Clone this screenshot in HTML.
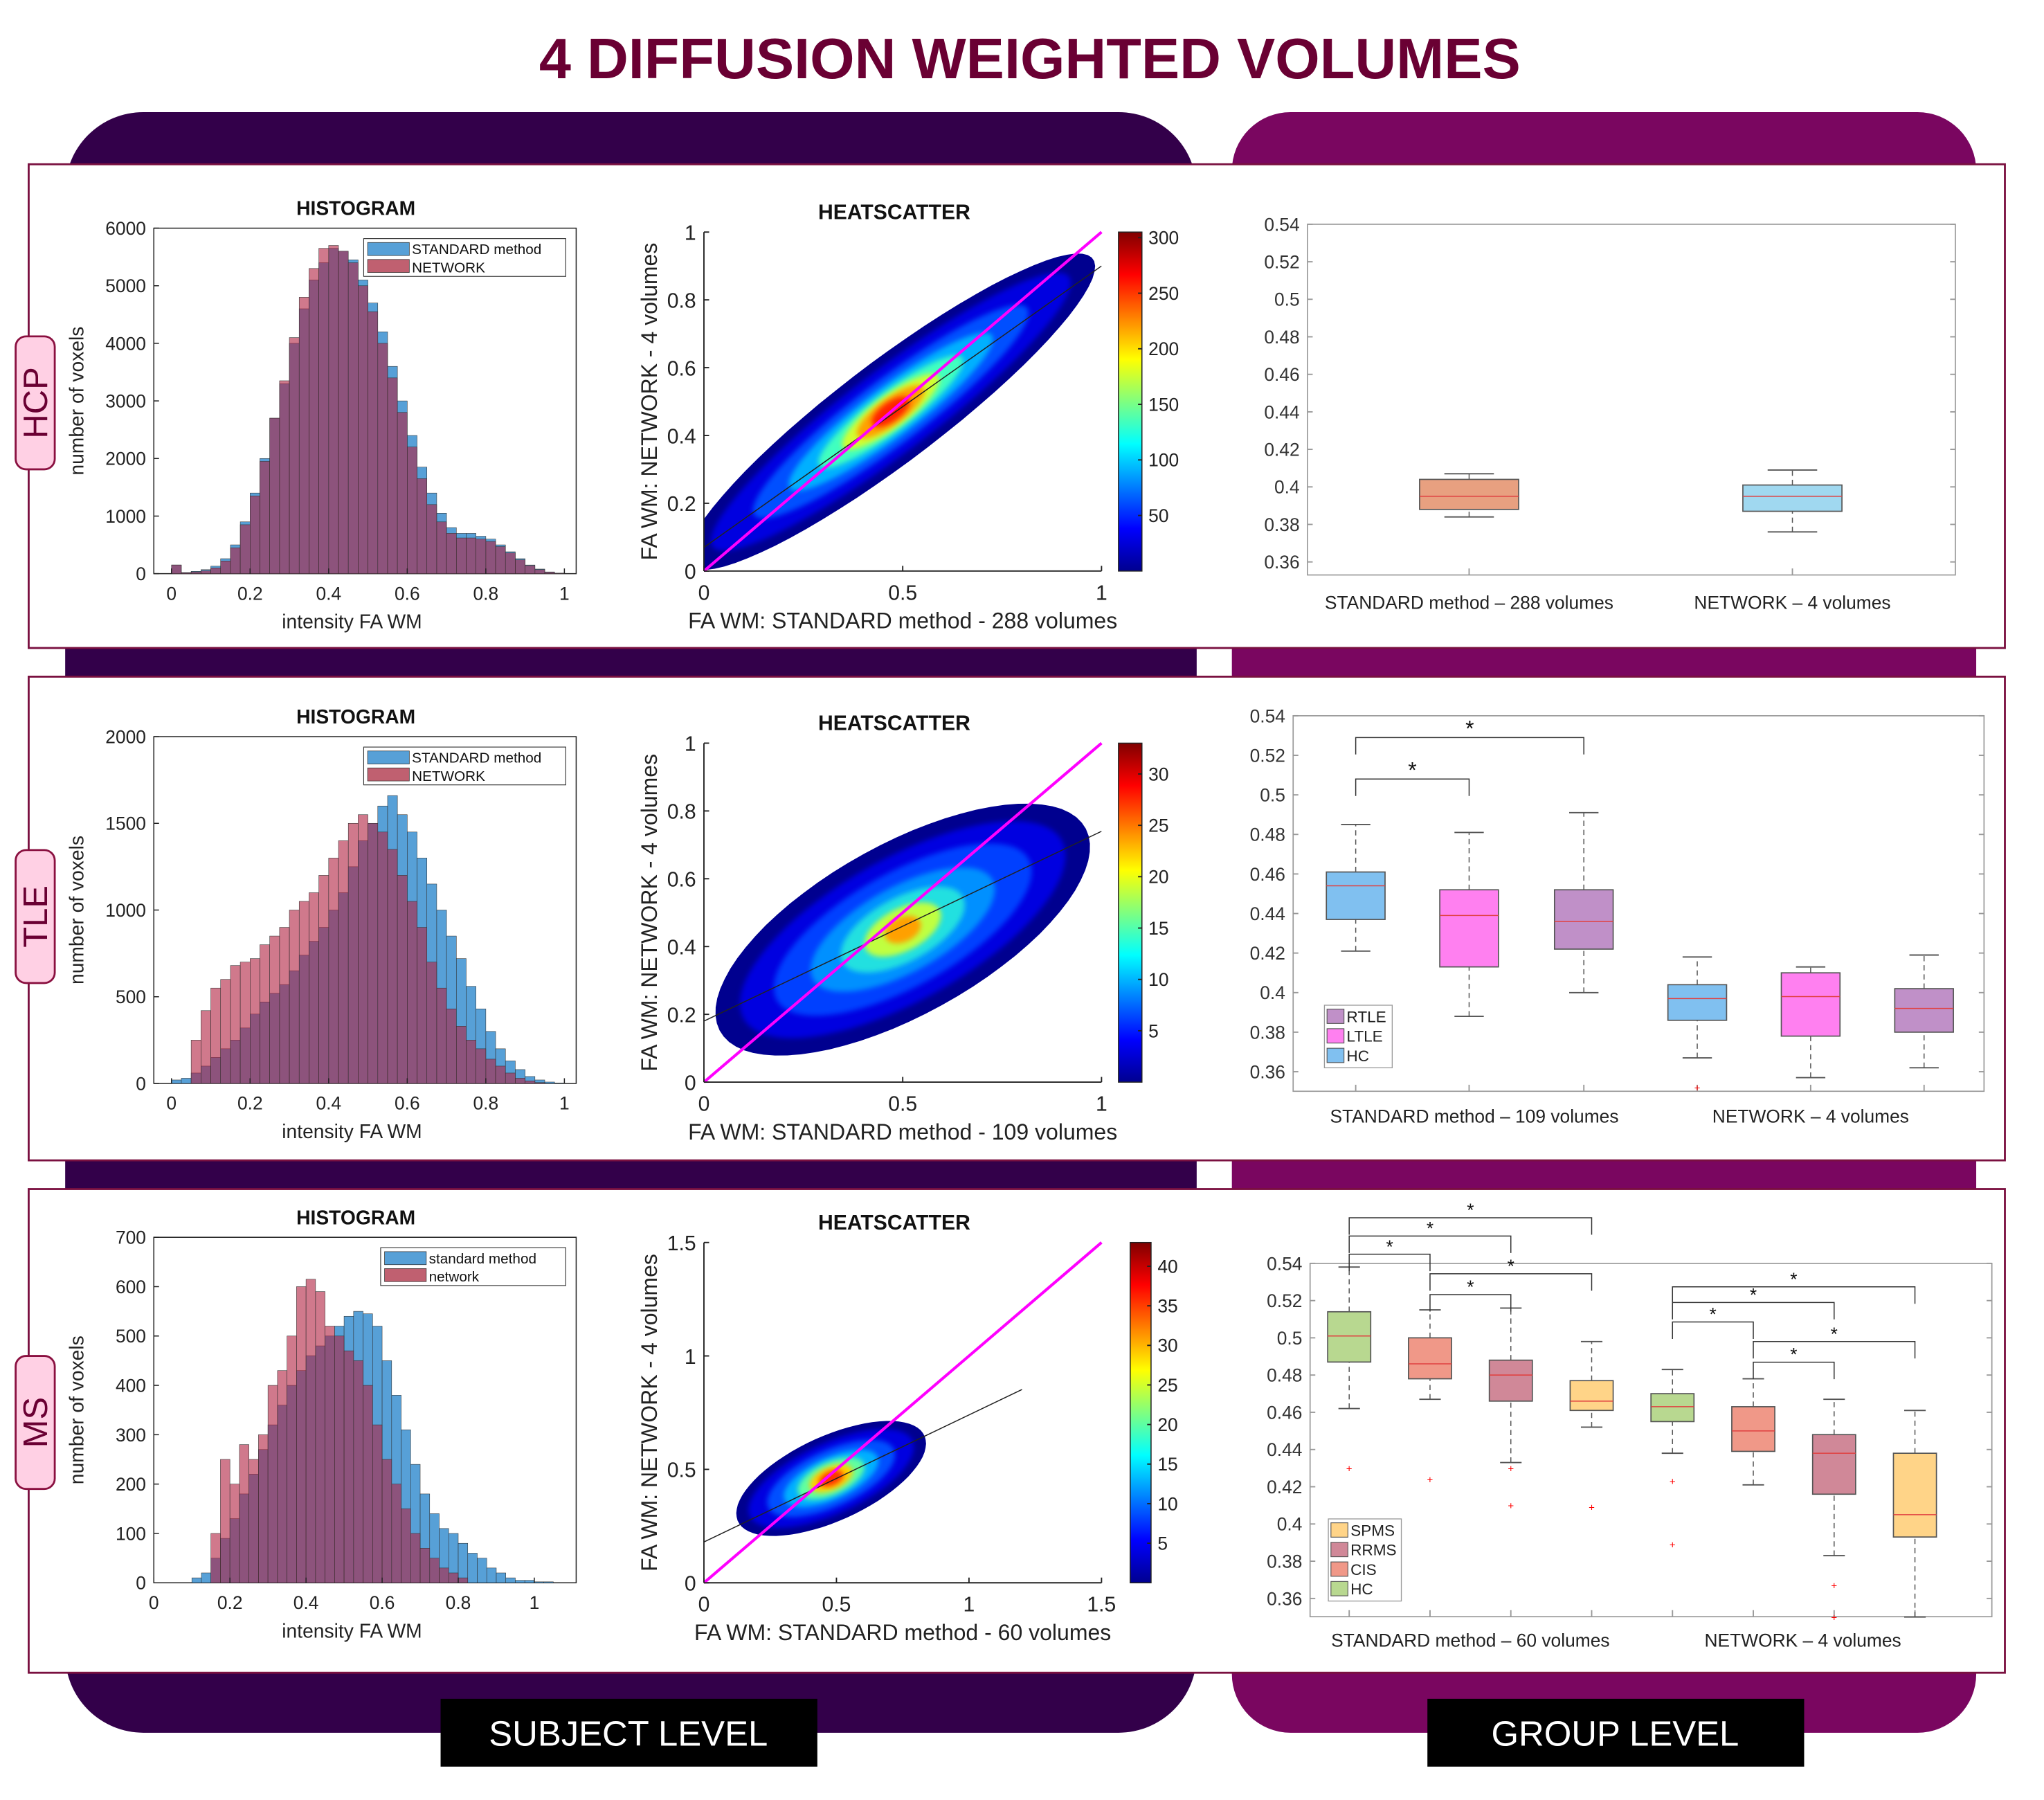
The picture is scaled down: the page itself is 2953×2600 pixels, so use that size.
<!DOCTYPE html>
<html><head><meta charset="utf-8">
<style>
html,body{margin:0;padding:0;background:#fff;}
svg{display:block;}
text{font-family:"Liberation Sans",sans-serif;}
</style></head>
<body>
<svg id="fig" xmlns="http://www.w3.org/2000/svg" width="2953" height="2600" viewBox="0 0 1568 1380.6" preserveAspectRatio="none">
<defs>
<linearGradient id="jet" x1="0" y1="1" x2="0" y2="0">
<stop offset="0" stop-color="#00008f"/><stop offset="0.125" stop-color="#0000ff"/><stop offset="0.375" stop-color="#00ffff"/><stop offset="0.625" stop-color="#ffff00"/><stop offset="0.875" stop-color="#ff0000"/><stop offset="1" stop-color="#800000"/>
</linearGradient>
<filter id="soft" x="-20%" y="-20%" width="140%" height="140%"><feGaussianBlur stdDeviation="2"/></filter>
</defs>
<rect x="0" y="0" width="1568" height="1381" fill="#fff"/>
<text x="790" y="60" text-anchor="middle" font-size="44" font-weight="bold" fill="#6a0033">4 DIFFUSION WEIGHTED VOLUMES</text>
<rect x="50" y="86" width="868" height="1243" rx="60" ry="60" fill="#33004a"/>
<rect x="945" y="86" width="571" height="1243" rx="45" ry="45" fill="#7a0660"/>
<g id="content"></g>
<rect x="338" y="1303" width="289" height="52" fill="#000"/>
<text x="482" y="1339" text-anchor="middle" font-size="27" fill="#fff">SUBJECT LEVEL</text>
<rect x="1095" y="1303" width="289" height="52" fill="#000"/>
<text x="1239" y="1339" text-anchor="middle" font-size="27" fill="#fff">GROUP LEVEL</text>
</svg>
<script>
// ---------- DATA ----------
const histBinWidth = 0.025;
const hcpStd = [150,20,40,70,130,260,500,900,1400,2000,2700,3300,4000,4600,5100,5400,5650,5600,5450,5100,4700,4200,3600,3000,2400,1850,1400,1050,800,700,700,650,600,500,380,260,150,80,30,10];
const hcpNet = [150,15,30,50,100,220,450,850,1350,1950,2700,3350,4100,4800,5300,5650,5700,5600,5400,5000,4550,4000,3400,2800,2200,1650,1200,900,700,620,620,600,560,470,360,240,140,70,25,8];
const tleStd = [20,30,60,100,150,200,250,320,400,470,520,570,650,740,820,900,1000,1100,1250,1400,1500,1600,1660,1550,1450,1300,1150,1000,850,720,560,430,300,200,130,80,40,20,8,3];
const tleNet = [0,0,250,420,550,600,680,700,720,800,850,900,1000,1050,1100,1200,1300,1400,1500,1550,1500,1450,1350,1200,1050,900,700,550,430,330,250,200,140,100,60,30,15,5,0,0];
const msStd = [0,0,0,0,10,20,50,90,130,180,220,270,320,360,400,430,460,480,500,520,540,550,545,520,450,380,310,240,180,140,110,100,80,60,50,30,20,10,5,5,2,2,0,0];
const msNet = [0,0,0,0,0,0,100,250,200,280,250,300,400,430,500,600,615,590,520,500,470,450,400,320,250,200,150,100,70,50,30,20,10,0,0,0,0,0,0,0,0,0,0,0];
const hcpYTicks = [0,1000,2000,3000,4000,5000,6000];
const tleYTicks = [0,500,1000,1500,2000];
const msYTicks = [0,100,200,300,400,500,600,700];
const histXTicks = [0,0.2,0.4,0.6,0.8,1];

// heatscatter clouds: [semi-major, semi-minor, color] in data units
const hcpCloudLevels = [[0.68,0.14,'#00008f'],[0.6,0.115,'#0000e0'],[0.46,0.09,'#0050ff'],[0.34,0.07,'#00b0ff'],[0.24,0.055,'#40ffc0'],[0.16,0.045,'#d0ff30'],[0.11,0.036,'#ffa000'],[0.06,0.026,'#ff2000']];
const hcpCloudCenter = [0.47,0.47]; const hcpCloudAngle = 42;
const hcpFit = [0.07,0.83]; // intercept, slope
const hcpCbTicks = [50,100,150,200,250,300]; const hcpCbMax = 305;
const tleCloudLevels = [[0.55,0.24,'#00008f'],[0.48,0.2,'#0000e0'],[0.38,0.16,'#0040ff'],[0.27,0.12,'#0090ff'],[0.18,0.09,'#20e0e0'],[0.11,0.06,'#c0ff40'],[0.05,0.035,'#ffa000']];
const tleCloudCenter = [0.5,0.45]; const tleCloudAngle = 35;
const tleFit = [0.18,0.56];
const tleCbTicks = [5,10,15,20,25,30]; const tleCbMax = 33;
const msCloudLevels = [[0.4,0.18,'#00008f'],[0.35,0.15,'#0000e0'],[0.27,0.12,'#0050ff'],[0.2,0.09,'#00b0ff'],[0.14,0.07,'#60ffa0'],[0.09,0.05,'#ffd000'],[0.05,0.03,'#ff3000']];
const msCloudCenter = [0.48,0.46]; const msCloudAngle = 30;
const msFit = [0.18,0.56];
const msCbTicks = [5,10,15,20,25,30,35,40]; const msCbMax = 43;

// boxplots: [whiskLow, q1, median, q3, whiskHigh]
const hcpBoxes = [[0.384,0.388,0.395,0.404,0.407],[0.376,0.387,0.395,0.401,0.409]];
const hcpBoxColors = ['#e8a080','#a0d8f0'];
const hcpOutliers = [[],[]];
const tleBoxes = [[0.421,0.437,0.454,0.461,0.485],[0.388,0.413,0.439,0.452,0.481],[0.400,0.422,0.436,0.452,0.491],[0.367,0.386,0.397,0.404,0.418],[0.357,0.378,0.398,0.410,0.413],[0.362,0.380,0.392,0.402,0.419]];
const tleBoxColors = ['#80c0f0','#ff80f0','#c090c8','#80c0f0','#ff80f0','#c090c8'];
const tleOutliers = [[],[],[],[0.352],[],[]];
const tleBrackets = [[0,1,0.508],[0,2,0.529]];
const msBoxes = [[0.462,0.487,0.501,0.514,0.538],[0.467,0.478,0.486,0.500,0.515],[0.433,0.466,0.480,0.488,0.516],[0.452,0.461,0.466,0.477,0.498],[0.438,0.455,0.463,0.470,0.483],[0.421,0.439,0.450,0.463,0.478],[0.383,0.416,0.438,0.448,0.467],[0.35,0.393,0.405,0.438,0.461]];
const msBoxColors = ['#b8d890','#f09888','#d08898','#ffd488','#b8d890','#f09888','#d08898','#ffd488'];
const msOutliers = [[0.430],[0.424],[0.430,0.410],[0.409],[0.423,0.389],[],[0.367,0.350],[]];
const msBrackets = [[0,3,0.5645],[0,2,0.5547],[0,1,0.5449],[1,3,0.5344],[1,2,0.5232],[4,7,0.5274],[4,6,0.519],[4,5,0.5085],[5,7,0.498],[5,6,0.4869]];
const boxYTicks = [0.36,0.38,0.4,0.42,0.44,0.46,0.48,0.5,0.52,0.54];

// ---------- HELPERS ----------
const NS = 'http://www.w3.org/2000/svg';
const root = document.getElementById('content');
function el(tag, attrs, parent, name, inter) {
  const e = document.createElementNS(NS, tag);
  for (const k in attrs) e.setAttribute(k, attrs[k]);
  
  
  (parent || root).appendChild(e);
  return e;
}
function txt(s, attrs, parent, name) { const t = el('text', attrs, parent, name, false); t.textContent = s; return t; }
function lin(d0, d1, r0, r1) { return v => r0 + (v - d0) / (d1 - d0) * (r1 - r0); }
function fmt(v) { return String(+v.toFixed(3)); }

// ---------- PANELS ----------
const panelTops = [126, 519, 912];
const rowNames = ['HCP','TLE','MS'];
const rowLabelY = [258, 652, 1040];
panelTops.forEach((t, i) => {
  el('rect', {x:22, y:t, width:1516, height:371, fill:'#fff', stroke:'#7a1040', 'stroke-width':1.5}, root, 'panel-' + rowNames[i].toLowerCase(), false);
  const g = el('g', {}, root, 'row-label-' + rowNames[i].toLowerCase(), false);
  el('rect', {x:12, y:rowLabelY[i], width:30, height:102, rx:8, fill:'#ffd0e4', stroke:'#8a1040', 'stroke-width':1.5}, g, 'row-label-box', false);
  txt(rowNames[i], {x:0, y:0, transform:'translate(36,' + (rowLabelY[i] + 51) + ') rotate(-90)', 'text-anchor':'middle', 'font-size':26, fill:'#6a0033'}, g, 'row-label-text');
});

// ---------- HISTOGRAMS ----------
function histogram(cfg) {
  const g = el('g', {}, root, 'histogram-' + cfg.id, false);
  const x = lin(cfg.xd[0], cfg.xd[1], cfg.L, cfg.R);
  const y = lin(0, cfg.ymax, cfg.B, cfg.T);
  el('rect', {x:cfg.L, y:cfg.T, width:cfg.R-cfg.L, height:cfg.B-cfg.T, fill:'#fff', stroke:'#222', 'stroke-width':0.8}, g, 'histogram-axes', false);
  [[cfg.std,'#3a8fd0',0.85,'std'],[cfg.net,'#b02040',0.6,'net']].forEach(s => {
    s[0].forEach((c, k) => {
      if (c <= 0) return;
      const x0 = x(k*histBinWidth), x1 = x((k+1)*histBinWidth);
      el('rect', {x:x0, y:y(c), width:x1-x0, height:cfg.B-y(c), fill:s[1], 'fill-opacity':s[2], stroke:'#333', 'stroke-width':0.3}, g, 'bar-' + s[3] + '-' + k, false);
    });
  });
  cfg.yt.forEach(v => {
    el('line', {x1:cfg.L, x2:cfg.L+4, y1:y(v), y2:y(v), stroke:'#222', 'stroke-width':0.8}, g, 'y-tick', false);
    txt(String(v), {x:cfg.L-6, y:y(v)+5, 'text-anchor':'end', 'font-size':14, fill:'#222'}, g, 'y-tick-label');
  });
  cfg.xt.forEach(v => {
    el('line', {x1:x(v), x2:x(v), y1:cfg.B, y2:cfg.B-4, stroke:'#222', 'stroke-width':0.8}, g, 'x-tick', false);
    txt(fmt(v), {x:x(v), y:cfg.B+20, 'text-anchor':'middle', 'font-size':14, fill:'#222'}, g, 'x-tick-label');
  });
  txt('HISTOGRAM', {x:(cfg.L+cfg.R)/2-7, y:cfg.T-10, 'text-anchor':'middle', 'font-size':15, 'font-weight':'bold', fill:'#111'}, g, 'histogram-title');
  txt('intensity FA WM', {x:(cfg.L+cfg.R)/2-10, y:cfg.B+42, 'text-anchor':'middle', 'font-size':15, fill:'#222'}, g, 'x-axis-title');
  txt('number of voxels', {x:0, y:0, transform:'translate(' + (cfg.L-54) + ',' + ((cfg.T+cfg.B)/2) + ') rotate(-90)', 'text-anchor':'middle', 'font-size':15, fill:'#222'}, g, 'y-axis-title');
  const lg = el('g', {}, g, 'legend', false);
  el('rect', {x:cfg.lx, y:cfg.T+8, width:434-cfg.lx, height:29, fill:'#fff', stroke:'#333', 'stroke-width':0.6}, lg, 'legend-box', false);
  el('rect', {x:cfg.lx+3, y:cfg.T+11, width:32, height:10, fill:'#3a8fd0', 'fill-opacity':0.85, stroke:'#333', 'stroke-width':0.4}, lg, 'legend-swatch-standard', false);
  txt(cfg.labels[0], {x:cfg.lx+37, y:cfg.T+20, 'font-size':11, fill:'#111'}, lg, 'legend-entry-standard');
  el('rect', {x:cfg.lx+3, y:cfg.T+24, width:32, height:10, fill:'#c06070', stroke:'#333', 'stroke-width':0.4}, lg, 'legend-swatch-network', false);
  txt(cfg.labels[1], {x:cfg.lx+37, y:cfg.T+34, 'font-size':11, fill:'#111'}, lg, 'legend-entry-network');
}
histogram({id:'hcp', L:118, R:442, T:175, B:440, xd:[-0.045,1.03], ymax:6000, std:hcpStd, net:hcpNet, yt:hcpYTicks, xt:histXTicks, lx:279, labels:['STANDARD method','NETWORK']});
histogram({id:'tle', L:118, R:442, T:565, B:831, xd:[-0.045,1.03], ymax:2000, std:tleStd, net:tleNet, yt:tleYTicks, xt:histXTicks, lx:279, labels:['STANDARD method','NETWORK']});
histogram({id:'ms', L:118, R:442, T:949, B:1214, xd:[0,1.11], ymax:700, std:msStd, net:msNet, yt:msYTicks, xt:histXTicks, lx:292, labels:['standard method','network']});

// ---------- HEATSCATTERS ----------
function heatscatter(cfg) {
  const g = el('g', {}, root, 'heatscatter-' + cfg.id, false);
  const x = lin(0, cfg.max, cfg.L, cfg.R);
  const y = lin(0, cfg.max, cfg.B, cfg.T);
  const clipId = 'clip-' + cfg.id;
  const cp = el('clipPath', {id:clipId}, g, 'clip', false);
  el('rect', {x:cfg.L, y:cfg.T, width:cfg.R-cfg.L, height:cfg.B-cfg.T}, cp, 'clip-rect', false);
  const cloud = el('g', {'clip-path':'url(#' + clipId + ')'}, g, 'density-cloud', false);
  const a = cfg.angle * Math.PI / 180;
  cfg.levels.forEach((lv, i) => {
    const pts = [];
    for (let k = 0; k < 72; k++) {
      const t = k / 72 * 2 * Math.PI;
      const u = lv[0] * Math.cos(t), w = lv[1] * Math.sin(t);
      const dx = cfg.center[0] + u*Math.cos(a) - w*Math.sin(a);
      const dy = cfg.center[1] + u*Math.sin(a) + w*Math.cos(a);
      pts.push(x(dx).toFixed(1) + ',' + y(dy).toFixed(1));
    }
    el('polygon', {points:pts.join(' '), fill:lv[2], filter: i === 0 ? '' : 'url(#soft)'}, cloud, 'density-level-' + i, false);
  });
  el('line', {x1:cfg.L, y1:cfg.B, x2:cfg.R, y2:cfg.B, stroke:'#222', 'stroke-width':1}, g, 'x-axis-line', false);
  el('line', {x1:cfg.L, y1:cfg.B, x2:cfg.L, y2:cfg.T, stroke:'#222', 'stroke-width':1}, g, 'y-axis-line', false);
  const fx1 = cfg.fitEnd;
  el('line', {x1:x(0), y1:y(cfg.fit[0]), x2:x(fx1), y2:y(cfg.fit[0]+cfg.fit[1]*fx1), stroke:'#222', 'stroke-width':0.8, 'clip-path':'url(#' + clipId + ')'}, g, 'fit-line', false);
  el('line', {x1:x(0), y1:y(0), x2:x(cfg.max), y2:y(cfg.max), stroke:'#ff00ff', 'stroke-width':2.2}, g, 'identity-line', false);
  cfg.xticks.forEach(v => {
    el('line', {x1:x(v), x2:x(v), y1:cfg.B, y2:cfg.B-4, stroke:'#222'}, g, 'x-tick', false);
    txt(fmt(v), {x:x(v), y:cfg.B+22, 'text-anchor':'middle', 'font-size':16, fill:'#222'}, g, 'x-tick-label');
  });
  cfg.yticks.forEach(v => {
    el('line', {x1:cfg.L, x2:cfg.L+4, y1:y(v), y2:y(v), stroke:'#222'}, g, 'y-tick', false);
    txt(fmt(v), {x:cfg.L-6, y:y(v)+6, 'text-anchor':'end', 'font-size':16, fill:'#222'}, g, 'y-tick-label');
  });
  txt('HEATSCATTER', {x:686, y:cfg.T-10, 'text-anchor':'middle', 'font-size':16, 'font-weight':'bold', fill:'#111'}, g, 'heatscatter-title');
  txt(cfg.xlabel, {x:(cfg.L+cfg.R)/2, y:cfg.B+44, 'text-anchor':'middle', 'font-size':17, fill:'#222'}, g, 'x-axis-title');
  txt('FA WM: NETWORK - 4 volumes', {x:0, y:0, transform:'translate(' + (cfg.L-36) + ',' + ((cfg.T+cfg.B)/2) + ') rotate(-90)', 'text-anchor':'middle', 'font-size':17, fill:'#222'}, g, 'y-axis-title');
  const cb = el('g', {}, g, 'colorbar', false);
  el('rect', {x:cfg.cbx, y:cfg.T, width:cfg.cbw, height:cfg.B-cfg.T, fill:'url(#jet)', stroke:'#222', 'stroke-width':0.8}, cb, 'colorbar-gradient', false);
  const cy = lin(0, cfg.cbMax, cfg.B, cfg.T);
  cfg.cbTicks.forEach(v => {
    el('line', {x1:cfg.cbx+cfg.cbw, x2:cfg.cbx+cfg.cbw-3, y1:cy(v), y2:cy(v), stroke:'#222'}, cb, 'colorbar-tick', false);
    txt(String(v), {x:cfg.cbx+cfg.cbw+5, y:cy(v)+5, 'font-size':14, fill:'#222'}, cb, 'colorbar-tick-label');
  });
}
heatscatter({id:'hcp', L:540, R:845, T:178, B:438, max:1, xticks:[0,0.5,1], yticks:[0,0.2,0.4,0.6,0.8,1], levels:hcpCloudLevels, center:hcpCloudCenter, angle:hcpCloudAngle, fit:hcpFit, fitEnd:1, cbx:858, cbw:18, cbTicks:hcpCbTicks, cbMax:hcpCbMax, xlabel:'FA WM: STANDARD method - 288 volumes'});
heatscatter({id:'tle', L:540, R:845, T:570, B:830, max:1, xticks:[0,0.5,1], yticks:[0,0.2,0.4,0.6,0.8,1], levels:tleCloudLevels, center:tleCloudCenter, angle:tleCloudAngle, fit:tleFit, fitEnd:1, cbx:858, cbw:18, cbTicks:tleCbTicks, cbMax:tleCbMax, xlabel:'FA WM: STANDARD method - 109 volumes'});
heatscatter({id:'ms', L:540, R:845, T:953, B:1214, max:1.5, xticks:[0,0.5,1,1.5], yticks:[0,0.5,1,1.5], levels:msCloudLevels, center:msCloudCenter, angle:msCloudAngle, fit:msFit, fitEnd:1.2, cbx:867, cbw:16, cbTicks:msCbTicks, cbMax:msCbMax, xlabel:'FA WM: STANDARD method - 60 volumes'});

// ---------- BOXPLOTS ----------
function boxplot(cfg) {
  const g = el('g', {}, root, 'boxplot-' + cfg.id, false);
  const y = lin(0.36, 0.54, cfg.y36, cfg.y54);
  el('rect', {x:cfg.L, y:cfg.T, width:cfg.R-cfg.L, height:cfg.B-cfg.T, fill:'#fff', stroke:'#999', 'stroke-width':0.9}, g, 'boxplot-axes', false);
  boxYTicks.forEach(v => {
    if (y(v) < cfg.T - 1 || y(v) > cfg.B) return;
    el('line', {x1:cfg.L, x2:cfg.L+4, y1:y(v), y2:y(v), stroke:'#999'}, g, 'y-tick', false);
    el('line', {x1:cfg.R, x2:cfg.R-4, y1:y(v), y2:y(v), stroke:'#999'}, g, 'y-tick-right', false);
    txt(fmt(v), {x:cfg.L-6, y:y(v)+5, 'text-anchor':'end', 'font-size':14, fill:'#333'}, g, 'y-tick-label');
  });
  cfg.xs.forEach(cx => el('line', {x1:cx, x2:cx, y1:cfg.B, y2:cfg.B-5, stroke:'#999'}, g, 'x-tick', false));
  cfg.boxes.forEach((b, i) => {
    const bg = el('g', {}, g, 'box-' + i, false);
    const cx = cfg.xs[i], hw = cfg.w/2;
    el('line', {x1:cx, x2:cx, y1:y(b[0]), y2:y(b[1]), stroke:'#555', 'stroke-width':0.8, 'stroke-dasharray':'4,3'}, bg, 'whisker-low', false);
    el('line', {x1:cx, x2:cx, y1:y(b[3]), y2:y(b[4]), stroke:'#555', 'stroke-width':0.8, 'stroke-dasharray':'4,3'}, bg, 'whisker-high', false);
    el('line', {x1:cx-hw/2, x2:cx+hw/2, y1:y(b[0]), y2:y(b[0]), stroke:'#555', 'stroke-width':1}, bg, 'cap-low', false);
    el('line', {x1:cx-hw/2, x2:cx+hw/2, y1:y(b[4]), y2:y(b[4]), stroke:'#555', 'stroke-width':1}, bg, 'cap-high', false);
    el('rect', {x:cx-hw, y:y(b[3]), width:cfg.w, height:y(b[1])-y(b[3]), fill:cfg.colors[i], stroke:'#555', 'stroke-width':0.9}, bg, 'box-body', false);
    el('line', {x1:cx-hw, x2:cx+hw, y1:y(b[2]), y2:y(b[2]), stroke:'#e04040', 'stroke-width':0.8}, bg, 'median', false);
    cfg.outliers[i].forEach(o => txt('+', {x:cx, y:y(o)+3, 'text-anchor':'middle', 'font-size':8, fill:'#f00'}, bg, 'outlier'));
  });
  (cfg.brackets || []).forEach((br, k) => {
    const x0 = cfg.xs[br[0]], x1 = cfg.xs[br[1]], yy = y(br[2]);
    el('path', {d:'M' + x0 + ',' + (yy+13) + ' V' + yy + ' H' + x1 + ' V' + (yy+13), fill:'none', stroke:'#333', 'stroke-width':0.8}, g, 'significance-bracket-' + k, false);
    txt('*', {x:(x0+x1)/2, y:yy-1, 'text-anchor':'middle', 'font-size':cfg.star, fill:'#111'}, g, 'significance-star');
  });
  cfg.cats.forEach(c => txt(c[0], {x:c[1], y:cfg.labelY, 'text-anchor':'middle', 'font-size':14, fill:'#222'}, g, 'category-label'));
  if (cfg.legend) {
    const lg = el('g', {}, g, 'legend', false);
    const L = cfg.legend;
    el('rect', {x:L.x, y:L.y, width:L.w, height:L.items.length*15+3, fill:'#fff', stroke:'#999', 'stroke-width':0.7}, lg, 'legend-box', false);
    L.items.forEach((it, k) => {
      el('rect', {x:L.x+2, y:L.y+3+k*15, width:13, height:11, fill:it[1], stroke:'#555', 'stroke-width':0.6}, lg, 'legend-swatch', false);
      txt(it[0], {x:L.x+17, y:L.y+13+k*15, 'font-size':12, fill:'#222'}, lg, 'legend-entry');
    });
  }
}
boxplot({id:'hcp', L:1003, R:1500, T:172, B:441, y36:431, y54:172, xs:[1127,1375], w:76, boxes:hcpBoxes, colors:hcpBoxColors, outliers:hcpOutliers, cats:[['STANDARD method – 288 volumes',1127],['NETWORK – 4 volumes',1375]], labelY:467});
boxplot({id:'tle', L:992, R:1522, T:549, B:837, y36:822, y54:549, xs:[1040,1127,1215,1302,1389,1476], w:45, boxes:tleBoxes, colors:tleBoxColors, outliers:tleOutliers, brackets:tleBrackets, star:17, cats:[['STANDARD method – 109 volumes',1131],['NETWORK – 4 volumes',1389]], labelY:861, legend:{x:1016, y:771, w:52, items:[['RTLE','#c090c8'],['LTLE','#ff80f0'],['HC','#80c0f0']]}});
boxplot({id:'ms', L:1005, R:1528, T:969, B:1240, y36:1226, y54:969, xs:[1035,1097,1159,1221,1283,1345,1407,1469], w:33, boxes:msBoxes, colors:msBoxColors, outliers:msOutliers, brackets:msBrackets, star:14, cats:[['STANDARD method – 60 volumes',1128],['NETWORK – 4 volumes',1383]], labelY:1263, legend:{x:1019, y:1165, w:56, items:[['SPMS','#ffd488'],['RRMS','#d08898'],['CIS','#f09888'],['HC','#b8d890']]}});
</script>
</body></html>
